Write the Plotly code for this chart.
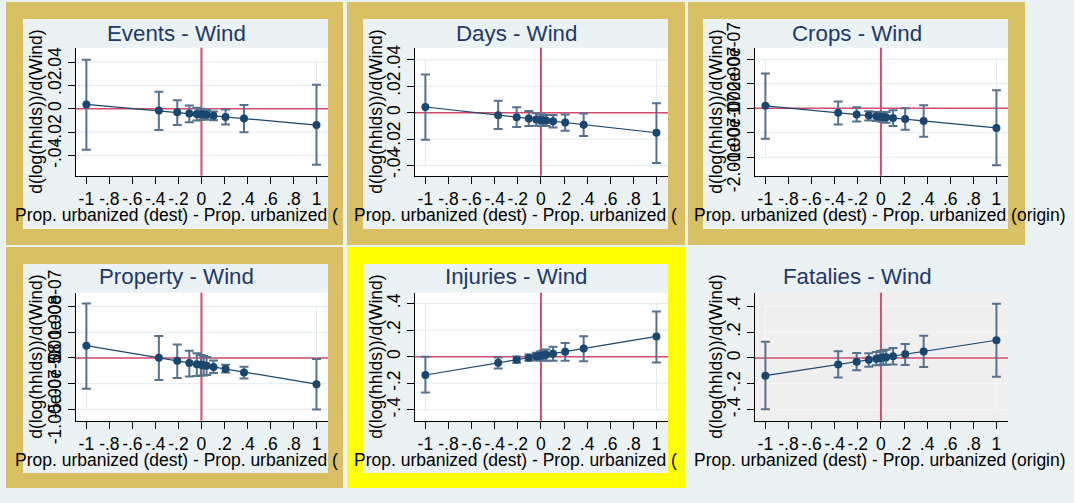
import plotly.graph_objects as go

W, H = 1077, 503

# Difference in urbanization share (destination minus origin) at which margins are evaluated
urb_diff = [-1, -0.37, -0.21, -0.105, -0.04, -0.005, 0.02, 0.045, 0.105, 0.21, 0.37, 1]

x_tickvals = [-1, -0.8, -0.6, -0.4, -0.2, 0, 0.2, 0.4, 0.6, 0.8, 1]
x_ticktext = ["-1", "-.8", "-.6", "-.4", "-.2", "0", ".2", ".4", ".6", ".8", "1"]

# Marginal effects d(log(hhlds))/d(Wind) with 95% confidence bounds
events_est = [0.0037, -0.0016, -0.0031, -0.0040, -0.0045, -0.0048, -0.0050, -0.0052, -0.0060, -0.0071, -0.0084, -0.0140]
events_lo = [-0.0351, -0.0182, -0.0140, -0.0116, -0.0100, -0.0094, -0.0092, -0.0093, -0.0098, -0.0136, -0.0202, -0.0480]
events_hi = [0.0420, 0.0146, 0.0072, 0.0028, 0.0008, 0.0000, -0.0006, -0.0010, -0.0024, -0.0007, 0.0032, 0.0206]

days_est = [0.0043, -0.0019, -0.0034, -0.0044, -0.0051, -0.0055, -0.0057, -0.0059, -0.0065, -0.0075, -0.0091, -0.0152]
days_lo = [-0.0205, -0.0124, -0.0108, -0.0100, -0.0098, -0.0098, -0.0099, -0.0101, -0.0112, -0.0137, -0.0177, -0.0380]
days_hi = [0.0290, 0.0090, 0.0042, 0.0012, -0.0004, -0.0012, -0.0015, -0.0017, -0.0018, -0.0013, -0.0007, 0.0072]

crops_est = [0.10e-7, -0.18e-7, -0.25e-7, -0.30e-7, -0.33e-7, -0.35e-7, -0.36e-7, -0.37e-7, -0.40e-7, -0.44e-7, -0.52e-7, -0.80e-7]
crops_lo = [-1.24e-7, -0.66e-7, -0.54e-7, -0.50e-7, -0.52e-7, -0.53e-7, -0.56e-7, -0.59e-7, -0.72e-7, -0.88e-7, -1.16e-7, -2.32e-7]
crops_hi = [1.42e-7, 0.28e-7, 0.04e-7, -0.12e-7, -0.14e-7, -0.16e-7, -0.16e-7, -0.15e-7, -0.08e-7, 0.00e-7, 0.12e-7, 0.73e-7]

property_est = [2.40e-8, 0.04e-8, -0.56e-8, -0.96e-8, -1.20e-8, -1.33e-8, -1.43e-8, -1.52e-8, -1.74e-8, -2.14e-8, -2.80e-8, -5.10e-8]
property_lo = [-6.0e-8, -4.3e-8, -3.9e-8, -3.6e-8, -3.5e-8, -3.4e-8, -3.4e-8, -3.3e-8, -2.9e-8, -2.8e-8, -4.0e-8, -10.0e-8]
property_hi = [10.6e-8, 4.3e-8, 2.6e-8, 1.4e-8, 0.9e-8, 0.6e-8, 0.4e-8, 0.2e-8, -0.5e-8, -1.3e-8, -1.7e-8, -0.2e-8]

injuries_est = [-0.1375, -0.046, -0.023, -0.008, 0.002, 0.007, 0.010, 0.014, 0.023, 0.038, 0.061, 0.1525]
injuries_lo = [-0.270, -0.088, -0.046, -0.030, -0.029, -0.029, -0.029, -0.030, -0.030, -0.031, -0.034, -0.043]
injuries_hi = [0.000, -0.006, 0.001, 0.016, 0.030, 0.040, 0.048, 0.055, 0.075, 0.104, 0.154, 0.340]

fatalies_est = [-0.137, -0.050, -0.029, -0.014, -0.005, 0.000, 0.003, 0.006, 0.014, 0.029, 0.051, 0.137]
fatalies_lo = [-0.397, -0.150, -0.095, -0.067, -0.057, -0.055, -0.053, -0.052, -0.050, -0.054, -0.070, -0.145]
fatalies_hi = [0.126, 0.052, 0.039, 0.036, 0.047, 0.055, 0.058, 0.063, 0.077, 0.108, 0.173, 0.420]

ticks_small = [-0.04, -0.02, 0, 0.02, 0.04]
ticks_small_text = ["-.04", "-.02", "0", ".02", ".04"]
ticks_crops = [-2e-7, -1e-7, 0, 1e-7, 2e-7]
ticks_crops_text = ["-2.00e-07", "-1.00e-07", "0", "1.00e-07", "2.00e-07"]
ticks_property = [-1e-7, -5e-8, 0, 5e-8, 1e-7]
ticks_property_text = ["-1.00e-07", "-5.00e-08", "0", "5.00e-08", "1.00e-07"]
ticks_large = [-0.4, -0.2, 0, 0.2, 0.4]
ticks_large_text = ["-.4", "-.2", "0", ".2", ".4"]

panel_titles = ["Events - Wind", "Days - Wind", "Crops - Wind",
                "Property - Wind", "Injuries - Wind", "Fatalies - Wind"]

xtitle_full = "Prop. urbanized (dest) - Prop. urbanized (origin)"
xtitle_cut = "Prop. urbanized (dest) - Prop. urbanized ("
ytitle = "d(log(hhlds))/d(Wind)"

# ---- styling ----
BG = "#eaf2f3"
GOLD = "#d9c064"
YELLOW = "#ffff00"
NAVY = "#1a476f"
CI_COL = "#56728f"
REF = "#d64a6d"
TITLE_COL = "#22386a"
FONT = "Liberation Sans, Arial, sans-serif"

panels = [
    dict(est=events_est, lo=events_lo, hi=events_hi, tv=ticks_small, tt=ticks_small_text,
         yr=[-0.0574, 0.0523], frame=GOLD, plotbg="white"),
    dict(est=days_est, lo=days_lo, hi=days_hi, tv=ticks_small, tt=ticks_small_text,
         yr=[-0.0477, 0.0492], frame=GOLD, plotbg="white"),
    dict(est=crops_est, lo=crops_lo, hi=crops_hi, tv=ticks_crops, tt=ticks_crops_text,
         yr=[-2.75e-7, 2.47e-7], frame=GOLD, plotbg="white"),
    dict(est=property_est, lo=property_lo, hi=property_hi, tv=ticks_property, tt=ticks_property_text,
         yr=[-1.22e-7, 1.27e-7], frame=GOLD, plotbg="white"),
    dict(est=injuries_est, lo=injuries_lo, hi=injuries_hi, tv=ticks_large, tt=ticks_large_text,
         yr=[-0.4816, 0.4816], frame=YELLOW, plotbg="white"),
    dict(est=fatalies_est, lo=fatalies_lo, hi=fatalies_hi, tv=ticks_large, tt=ticks_large_text,
         yr=[-0.485, 0.505], frame=None, plotbg="#efefef"),
]

# pixel geometry of the 3x2 grid
col_frame = [(6, 343), (347, 685), (688, 1025)]
row_frame = [(2, 245), (247, 488)]
col_inner = [(23, 328), (363, 668), (703, 1008)]
row_inner = [(19, 229), (264, 473)]
col_plot = [(76, 328), (415, 668), (755, 1008)]
row_plot = [(47.7, 175.7), (292.7, 420.7)]
title_cx = [176, 516, 857]
title_cy = [33, 276.5]
xtitle_cy = [214.5, 459.5]
ytitle_cx = [36, 376, 716]


def px(x):
    return x / W


def py(y):
    return 1 - y / H


fig = go.Figure()
shapes = []
annotations = []

for i, p in enumerate(panels):
    r, c = divmod(i, 3)
    n = i + 1
    xa = "xaxis" if n == 1 else f"xaxis{n}"
    ya = "yaxis" if n == 1 else f"yaxis{n}"
    xr = "x" if n == 1 else f"x{n}"
    yr = "y" if n == 1 else f"y{n}"

    if p["frame"]:
        shapes.append(dict(type="rect", xref="paper", yref="paper", layer="below",
                           x0=px(col_frame[c][0]), x1=px(col_frame[c][1]),
                           y0=py(row_frame[r][1]), y1=py(row_frame[r][0]),
                           fillcolor=p["frame"], line=dict(width=0)))
        shapes.append(dict(type="rect", xref="paper", yref="paper", layer="below",
                           x0=px(col_inner[c][0]), x1=px(col_inner[c][1]),
                           y0=py(row_inner[r][1]), y1=py(row_inner[r][0]),
                           fillcolor=BG, line=dict(width=0)))
    shapes.append(dict(type="rect", xref="paper", yref="paper", layer="below",
                       x0=px(col_plot[c][0]), x1=px(col_plot[c][1]),
                       y0=py(row_plot[r][1]), y1=py(row_plot[r][0]),
                       fillcolor=p["plotbg"], line=dict(width=0)))

    grid_col = "#e3ebee" if p["plotbg"] == "white" else "#f7f7f7"
    # horizontal grid lines at the labelled values
    for tv in p["tv"]:
        shapes.append(dict(type="line", xref=f"{xr} domain", yref=yr, layer="below",
                           x0=0, x1=1, y0=tv, y1=tv, line=dict(color=grid_col, width=1)))
    # faint frame around the labelled range
    for xv in (-1, 1):
        shapes.append(dict(type="line", xref=xr, yref=yr, layer="below",
                           x0=xv, x1=xv, y0=p["tv"][0], y1=p["tv"][-1],
                           line=dict(color=grid_col, width=1)))
    # reference lines at zero
    shapes.append(dict(type="line", xref=f"{xr} domain", yref=yr, layer="below",
                       x0=0, x1=1, y0=0, y1=0, line=dict(color=REF, width=1.5)))
    shapes.append(dict(type="line", xref=xr, yref=f"{yr} domain", layer="below",
                       x0=0, x1=0, y0=0, y1=1, line=dict(color=REF, width=2)))

    err_plus = [h - e for h, e in zip(p["hi"], p["est"])]
    err_minus = [e - l for e, l in zip(p["est"], p["lo"])]
    fig.add_trace(go.Scatter(
        x=urb_diff, y=p["est"], xaxis=xr, yaxis=yr, mode="lines+markers",
        line=dict(color=NAVY, width=1.2),
        marker=dict(color=NAVY, size=8),
        error_y=dict(type="data", array=err_plus, arrayminus=err_minus,
                     color=CI_COL, thickness=2, width=4.5),
        showlegend=False, hoverinfo="x+y"))

    fig.update_layout(**{
        xa: dict(domain=[px(col_plot[c][0]), px(col_plot[c][1])], anchor=yr,
                 range=[-1.09, 1.10], tickvals=x_tickvals, ticktext=x_ticktext,
                 tickangle=0, ticks="outside", ticklen=7, tickcolor="black",
                 showline=True, linecolor="black", linewidth=1, showgrid=False,
                 zeroline=False, automargin=False,
                 tickfont=dict(family=FONT, size=17.5, color="black")),
        ya: dict(domain=[py(row_plot[r][1]), py(row_plot[r][0])], anchor=xr,
                 range=p["yr"], tickvals=p["tv"], ticktext=p["tt"],
                 tickangle=-90, ticks="outside", ticklen=7, tickcolor="black",
                 showline=True, linecolor="black", linewidth=1, showgrid=False,
                 zeroline=False, automargin=False,
                 tickfont=dict(family=FONT, size=17.5, color="black")),
    })

    annotations.append(dict(text=panel_titles[i], xref="paper", yref="paper",
                            x=px(title_cx[c]), y=py(title_cy[r]), xanchor="center",
                            yanchor="middle", showarrow=False,
                            font=dict(family=FONT, size=22.3, color=TITLE_COL)))
    annotations.append(dict(text=xtitle_full if c == 2 else xtitle_cut,
                            xref="paper", yref="paper",
                            x=px(col_plot[c][0] - 63), y=py(xtitle_cy[r]),
                            xanchor="left", yanchor="middle", showarrow=False,
                            font=dict(family=FONT, size=17.5, color="black")))
    annotations.append(dict(text=ytitle, xref="paper", yref="paper", textangle=-90,
                            x=px(ytitle_cx[c]),
                            y=py((row_plot[r][0] + row_plot[r][1]) / 2),
                            xanchor="center", yanchor="middle", showarrow=False,
                            font=dict(family=FONT, size=17.5, color="black")))

# thin white strip at the far right edge
shapes.append(dict(type="rect", xref="paper", yref="paper", layer="below",
                   x0=px(1074), x1=1, y0=0, y1=1, fillcolor="white", line=dict(width=0)))

fig.update_layout(width=W, height=H, autosize=False,
                  margin=dict(l=0, r=0, t=0, b=0, autoexpand=False),
                  paper_bgcolor=BG, plot_bgcolor="rgba(0,0,0,0)",
                  shapes=shapes, annotations=annotations,
                  font=dict(family=FONT))

fig.write_html("out.html")
